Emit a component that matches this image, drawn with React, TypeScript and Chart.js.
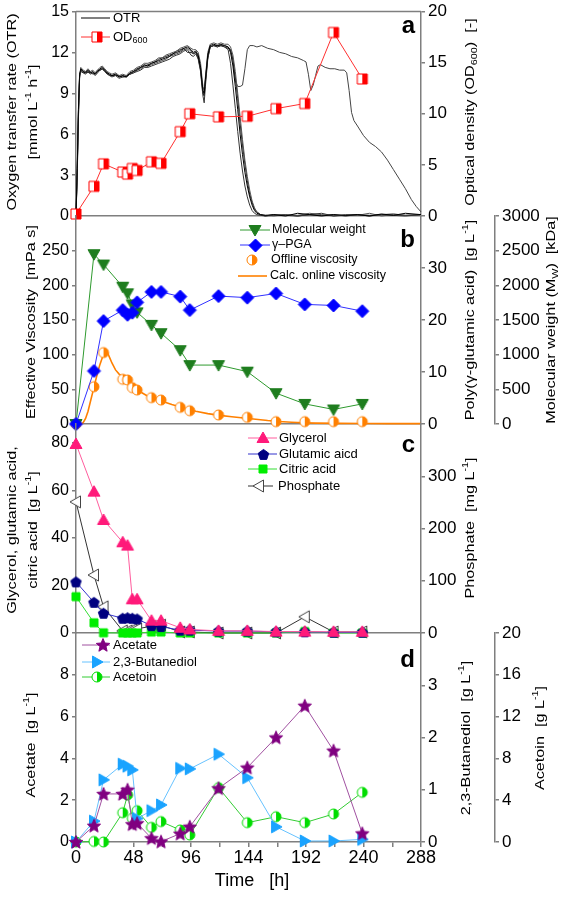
import React, { useEffect, useRef } from 'react';
import { Chart, registerables } from 'chart.js';

Chart.register(...registerables);

const W = 567;
const H = 899;
const FONT = '"Liberation Sans", Arial, Helvetica, sans-serif';
const AXIS = '#7f7f7f';

// ---------- sampling times (h) ----------
const sampleTime = [0, 15, 23, 39, 43, 47, 51, 63, 71, 87, 95, 119, 143, 167, 191, 215, 239];

// ---------- panel a ----------
const od600 = [0.2, 2.9, 5.1, 4.3, 4.1, 4.65, 4.45, 5.3, 5.15, 8.25, 10.0, 9.7, 9.75, 10.5, 11.0, 17.95, 13.4];

const otrTime = [0, 1, 2, 3, 4, 6, 8, 10, 12, 14, 16, 18, 20, 22, 24, 26, 28, 30, 33, 36, 39, 42, 45, 48, 51, 54, 57, 60, 63, 66, 69, 72, 75, 78, 81, 84, 87, 90, 93, 96, 98, 100, 102, 104, 105, 106, 107, 108, 110, 112, 115, 118, 121, 124, 127, 129, 131, 133, 135, 137, 139, 141, 143, 145, 147, 149, 151, 154, 158, 165, 175, 185, 195, 205, 215, 225, 235, 245, 255, 265, 275, 288];
const otrRun1 = [0, 3.5, 7.8, 10.4, 10.8, 10.6, 10.5, 10.7, 10.5, 10.6, 10.4, 10.6, 10.8, 10.9, 10.7, 10.5, 10.4, 10.3, 10.4, 10.2, 10.3, 10.2, 10.5, 10.6, 10.8, 10.9, 11.1, 11.0, 11.2, 11.3, 11.4, 11.5, 11.6, 11.7, 11.9, 12.0, 12.1, 12.3, 12.4, 12.2, 12.0, 12.1, 11.8, 10.9, 10.0, 9.2, 9.0, 10.0, 11.8, 12.5, 12.6, 12.5, 12.6, 12.5, 12.4, 12.0, 11.0, 9.5, 7.8, 6.0, 4.5, 3.2, 2.2, 1.4, 0.8, 0.4, 0.2, 0.1, 0.05, 0.1, 0.0, 0.2, 0.1, 0.0, 0.1, 0.05, 0.1, 0.0, 0.15, 0.05, 0.2, 0.1];
const otrRun2 = [0, 3.0, 7.2, 10.2, 10.7, 10.5, 10.4, 10.6, 10.4, 10.5, 10.3, 10.5, 10.7, 10.8, 10.6, 10.4, 10.3, 10.2, 10.3, 10.1, 10.2, 10.2, 10.4, 10.5, 10.6, 10.7, 10.9, 10.9, 11.0, 11.1, 11.2, 11.3, 11.4, 11.5, 11.7, 11.8, 11.9, 12.1, 12.2, 11.8, 11.7, 11.9, 11.5, 10.6, 9.6, 8.8, 8.3, 9.5, 11.5, 12.4, 12.5, 12.4, 12.5, 12.4, 12.2, 11.2, 9.6, 7.9, 6.2, 4.6, 3.3, 2.2, 1.4, 0.8, 0.4, 0.2, 0.1, 0.05, 0.0, 0.1, 0.05, 0.0, 0.1, 0.2, 0.0, 0.05, 0.1, 0.0, 0.1, 0.05, 0.0, 0.1];
const otrRun3 = [0, 2.8, 7.0, 10.1, 10.9, 10.7, 10.6, 10.8, 10.6, 10.7, 10.5, 10.7, 10.9, 11.0, 10.8, 10.6, 10.5, 10.4, 10.5, 10.3, 10.4, 10.3, 10.6, 10.7, 10.9, 11.0, 11.2, 11.2, 11.3, 11.4, 11.6, 11.6, 11.8, 11.9, 12.0, 12.1, 12.3, 12.4, 12.5, 12.3, 12.2, 12.2, 12.0, 11.2, 10.3, 9.5, 9.2, 10.2, 12.0, 12.6, 12.7, 12.6, 12.7, 12.6, 12.6, 12.4, 11.8, 10.6, 9.0, 7.3, 5.6, 4.1, 2.9, 1.9, 1.1, 0.6, 0.3, 0.1, 0.05, 0.0, 0.1, 0.05, 0.2, 0.1, 0.0, 0.1, 0.05, 0.2, 0.0, 0.1, 0.05, 0.1];
const otrRun4 = [0, 3.2, 7.5, 10.3, 10.6, 10.5, 10.6, 10.5, 10.6, 10.4, 10.5, 10.7, 10.7, 10.8, 10.6, 10.5, 10.3, 10.3, 10.3, 10.3, 10.2, 10.3, 10.4, 10.6, 10.7, 10.9, 11.0, 11.1, 11.2, 11.3, 11.5, 11.6, 11.7, 11.8, 11.9, 12.1, 12.2, 12.3, 12.0, 12.0, 11.9, 12.0, 11.6, 10.7, 9.8, 9.0, 8.8, 9.8, 11.6, 12.4, 12.5, 12.5, 12.5, 12.4, 12.3, 12.2, 11.5, 10.2, 8.6, 6.8, 5.2, 3.8, 2.6, 1.6, 1.0, 0.5, 0.3, 0.1, 0.0, 0.05, 0.1, 0.0, 0.1, 0.05, 0.1, 0.0, 0.1, 0.05, 0.1, 0.15, 0.05, 0.1];
const otrLongTime = [0, 1, 2, 3, 4, 6, 8, 10, 12, 14, 16, 18, 20, 22, 24, 26, 28, 30, 33, 36, 39, 42, 45, 48, 51, 54, 57, 60, 63, 66, 69, 72, 75, 78, 81, 84, 87, 90, 93, 96, 98, 100, 102, 104, 105, 106, 107, 108, 110, 112, 115, 118, 121, 124, 127, 129, 131, 133, 135, 137, 139, 141, 143, 145, 148, 151, 155, 160, 165, 170, 175, 180, 185, 190, 192, 194, 196, 198, 200, 202, 204, 208, 212, 216, 220, 224, 226, 228, 230, 232, 235, 240, 245, 250, 255, 260, 265, 270, 275, 280, 284, 288];
const otrLong = [0, 3.3, 7.6, 10.3, 10.7, 10.6, 10.5, 10.6, 10.5, 10.5, 10.4, 10.6, 10.7, 10.8, 10.7, 10.5, 10.4, 10.3, 10.4, 10.2, 10.3, 10.2, 10.4, 10.5, 10.7, 10.8, 11.0, 11.0, 11.1, 11.2, 11.3, 11.4, 11.5, 11.7, 11.8, 11.9, 12.0, 12.2, 12.3, 12.1, 11.9, 12.0, 11.7, 10.8, 9.9, 9.1, 8.9, 9.9, 11.7, 12.4, 12.5, 12.4, 12.5, 12.5, 12.4, 12.2, 11.4, 9.9, 9.5, 9.5, 9.6, 10.8, 12.2, 12.5, 12.5, 12.4, 12.5, 12.3, 12.2, 12.0, 11.9, 11.7, 11.6, 11.4, 11.3, 10.4, 9.2, 9.6, 10.3, 11.0, 11.1, 10.9, 10.8, 10.8, 10.7, 10.7, 10.5, 9.2, 7.6, 7.0, 6.6, 5.9, 5.4, 5.1, 4.7, 4.1, 3.4, 2.7, 2.0, 1.2, 0.7, 0.3];

// ---------- panel b ----------
const molWeight = [0, 2450, 2300, 1980, 1885, 1725, 1610, 1430, 1310, 1065, 850, 850, 755, 445, 290, 210, 290];
const pga = [0, 10.2, 19.8, 21.9, 21.0, 21.4, 23.4, 25.4, 25.4, 24.5, 21.9, 24.6, 24.3, 25.1, 23.0, 22.8, 21.7];
const offlineVisc = [0, 53.8, 103, 64.5, 63.5, 52.4, 49, 38, 34.6, 24, 19.2, 13, 9.6, 3.4, 3.4, 3.4, 3.4];
const calcViscTime = [0, 4, 6, 8, 10, 12, 14, 16, 18, 20, 22, 24, 25, 26, 28, 30, 33, 36, 40, 45, 50, 55, 60, 65, 70, 80, 90, 100, 110, 120, 130, 140, 150, 160, 170, 180, 190, 200, 220, 240, 260, 288];
const calcVisc = [0, 0, 2, 8, 18, 32, 46, 60, 74, 86, 96, 103, 105, 104, 96, 88, 78, 72, 67, 60, 51, 45, 40, 37, 34, 28, 23, 18.5, 15, 12.5, 10.5, 8.6, 6.8, 5, 3.6, 2.6, 1.8, 1.3, 0.9, 0.7, 0.6, 0.5];

// ---------- panel c ----------
const glycerol = [79.6, 59.5, 47.6, 38.2, 36.8, 14.2, 14.2, 5.2, 5.2, 2.2, 1.5, 0.9, 0.9, 0.6, 0.6, 0.5, 0.5];
const glutamic = [21.5, 12.9, 8.3, 6.2, 6.4, 6.2, 5.9, 3.1, 2.7, 1.2, 1.2, 0.8, 0.8, 0.5, 0.5, 0.3, 0.3];
const citric = [15.3, 4.3, 0.1, 0, 0, 0, 0, 0.4, 0.4, 0, 0, 0, 0, 0, 0.6, 0, 0];
const phosphate = [251, 111, 50, 4, 4, 6, 8, 13, 15, 2, 2, 0, 0, 0, 31, 2, 2];

// ---------- panel d ----------
const acetate = [0, 0.78, 2.3, 2.3, 2.5, 0.85, 0.9, 0.18, 0.02, 0.4, 0.73, 2.57, 3.56, 5.0, 6.52, 4.37, 0.41];
const butanediol = [0, 0.4, 1.19, 1.49, 1.45, 1.38, 0.45, 0.6, 0.71, 1.41, 1.4, 1.68, 1.23, 0.29, 0.02, 0.02, 0.05];
const acetoin = [0, 0.05, 0, 2.8, 4.5, 2.27, 3.0, 1.4, 1.95, 1.15, 0.67, 5.2, 1.85, 2.42, 1.85, 2.68, 4.75];

const xTickLabels = ['0', '48', '96', '144', '192', '240', '288'];

// ---------- helpers ----------
const xy = (xs: number[], ys: number[]) => xs.map((x, i) => ({ x, y: ys[i] }));

function makeMarker(kind: string, size: number, color: string, mode: 'fill' | 'half' | 'open' = 'fill'): HTMLCanvasElement {
  const pad = 2;
  const n = Math.ceil(size + pad * 2);
  const c = document.createElement('canvas');
  c.width = n;
  c.height = n;
  const g = c.getContext('2d')!;
  const cx = n / 2;
  const cy = n / 2;
  const r = size / 2;
  const poly = (pts: number[][]) => {
    pts.forEach(([x, y], i) => (i ? g.lineTo(cx + x, cy + y) : g.moveTo(cx + x, cy + y)));
    g.closePath();
  };
  const rot = (pts: number[][], a: number) =>
    pts.map(([x, y]) => [x * Math.cos(a) - y * Math.sin(a), x * Math.sin(a) + y * Math.cos(a)]);
  const tri = [[0, -r], [r, r * 0.75], [-r, r * 0.75]];
  const path = () => {
    g.beginPath();
    switch (kind) {
      case 'square':
        g.rect(cx - r, cy - r, size, size);
        break;
      case 'circle':
        g.arc(cx, cy, r, 0, Math.PI * 2);
        break;
      case 'diamond':
        poly([[0, -r], [r, 0], [0, r], [-r, 0]]);
        break;
      case 'triUp':
        poly(tri);
        break;
      case 'triDown':
        poly(rot(tri, Math.PI));
        break;
      case 'triLeft':
        poly(rot(tri, -Math.PI / 2));
        break;
      case 'triRight':
        poly(rot(tri, Math.PI / 2));
        break;
      case 'pentagon': {
        const pts: number[][] = [];
        for (let i = 0; i < 5; i++) {
          const a = -Math.PI / 2 + (i * 2 * Math.PI) / 5;
          pts.push([r * Math.cos(a), r * Math.sin(a) + r * 0.08]);
        }
        poly(pts);
        break;
      }
      case 'star': {
        const pts: number[][] = [];
        for (let i = 0; i < 10; i++) {
          const a = -Math.PI / 2 + (i * Math.PI) / 5;
          const rr = i % 2 ? r * 0.45 : r;
          pts.push([rr * Math.cos(a), rr * Math.sin(a) + r * 0.08]);
        }
        poly(pts);
        break;
      }
    }
  };
  g.lineWidth = 1;
  g.strokeStyle = color;
  g.fillStyle = color;
  g.lineJoin = 'miter';
  if (mode === 'fill') {
    path();
    g.fill();
    g.stroke();
  } else {
    path();
    g.fillStyle = '#ffffff';
    g.fill();
    if (mode === 'half') {
      g.save();
      g.beginPath();
      g.rect(cx, 0, n, n);
      g.clip();
      path();
      g.fillStyle = color;
      g.fill();
      g.restore();
    }
    path();
    g.stroke();
  }
  return c;
}

type Seg = { t: string; k: 'n' | 'sup' | 'sub' };
function parseRich(s: string): Seg[] {
  const out: Seg[] = [];
  const re = /(\^\{[^}]*\}|_\{[^}]*\})/g;
  let last = 0;
  let m: RegExpExecArray | null;
  while ((m = re.exec(s))) {
    if (m.index > last) out.push({ t: s.slice(last, m.index), k: 'n' });
    out.push({ t: m[0].slice(2, -1), k: m[0][0] === '^' ? 'sup' : 'sub' });
    last = m.index + m[0].length;
  }
  if (last < s.length) out.push({ t: s.slice(last), k: 'n' });
  return out;
}

interface TextSpec {
  x: number;
  y: number;
  text: string;
  size: number;
  sx?: number;
  rot?: boolean;
  bold?: boolean;
  align?: 'left' | 'center' | 'right';
  baseline?: CanvasTextBaseline;
}

function drawRich(ctx: CanvasRenderingContext2D, t: TextSpec) {
  const segs = parseRich(t.text);
  const font = (k: string) =>
    `${t.bold ? 'bold ' : ''}${k === 'n' ? t.size : Math.round(t.size * 0.66)}px ${FONT}`;
  ctx.save();
  ctx.translate(t.x, t.y);
  if (t.rot) ctx.rotate(-Math.PI / 2);
  ctx.scale(t.sx ?? 1, 1);
  let total = 0;
  const ws = segs.map((s) => {
    ctx.font = font(s.k);
    const w = ctx.measureText(s.t).width;
    total += w;
    return w;
  });
  let x = t.align === 'left' ? 0 : t.align === 'right' ? -total : -total / 2;
  ctx.fillStyle = '#000';
  ctx.textAlign = 'left';
  ctx.textBaseline = t.baseline ?? 'middle';
  segs.forEach((s, i) => {
    ctx.font = font(s.k);
    const dy = s.k === 'sup' ? -t.size * 0.33 : s.k === 'sub' ? t.size * 0.3 : 0;
    ctx.fillText(s.t, x, dy);
    x += ws[i];
  });
  ctx.restore();
}

interface LegendSpec {
  y: number;
  x1?: number;
  x2?: number;
  line?: string;
  lw?: number;
  mx?: number;
  mk?: HTMLCanvasElement;
  tx: number;
  text: string;
  size: number;
}

interface DecorSpec {
  topBorder?: boolean;
  texts: TextSpec[];
  legend: LegendSpec[];
}

function decorPlugin(spec: DecorSpec) {
  return {
    id: 'decor',
    afterDraw(chart: any) {
      const ctx: CanvasRenderingContext2D = chart.ctx;
      const area = chart.chartArea;
      if (spec.topBorder) {
        ctx.save();
        ctx.strokeStyle = AXIS;
        ctx.lineWidth = 1.5;
        ctx.beginPath();
        ctx.moveTo(area.left, area.top);
        ctx.lineTo(area.right, area.top);
        ctx.stroke();
        ctx.restore();
      }
      spec.legend.forEach((it) => {
        if (it.line) {
          ctx.save();
          ctx.strokeStyle = it.line;
          ctx.lineWidth = it.lw ?? 1;
          ctx.beginPath();
          ctx.moveTo(it.x1!, it.y);
          ctx.lineTo(it.x2!, it.y);
          ctx.stroke();
          ctx.restore();
        }
        if (it.mk) {
          ctx.drawImage(it.mk, Math.round(it.mx! - it.mk.width / 2), Math.round(it.y - it.mk.height / 2));
        }
        drawRich(ctx, { x: it.tx, y: it.y, text: it.text, size: it.size, align: 'left' });
      });
      spec.texts.forEach((t) => drawRich(ctx, t));
    },
  };
}

function yAxis(pos: 'left' | 'right', min: number, max: number, step: number, width: number, weight: number, show?: (v: number) => boolean) {
  return {
    type: 'linear',
    position: pos,
    min,
    max,
    weight,
    afterBuildTicks: (s: any) => {
      if (show) s.ticks = s.ticks.filter((t: any) => show(t.value));
    },
    afterFit: (s: any) => {
      s.width = width;
    },
    ticks: {
      stepSize: step,
      autoSkip: false,
      font: { family: FONT, size: pos === 'left' ? 16 : 17, lineHeight: 1 },
      color: '#000',
      padding: 3,
      callback: (v: any) => String(v),
    },
    grid: { drawOnChartArea: false, drawTicks: true, tickLength: 4, color: AXIS, lineWidth: 1.5 },
    border: { display: true, color: AXIS, width: 1.5 },
  };
}

function xAxis(bottom: boolean) {
  return {
    type: 'linear',
    position: 'bottom',
    min: 0,
    max: 288,
    afterFit: (s: any) => {
      s.height = bottom ? 30 : 0;
    },
    ticks: {
      display: bottom,
      stepSize: 24,
      autoSkip: false,
      maxRotation: 0,
      font: { family: FONT, size: 18, lineHeight: 1 },
      color: '#000',
      padding: 2,
      callback: (v: any) => (xTickLabels.includes(String(v)) ? String(v) : ''),
    },
    grid: { drawOnChartArea: false, drawTicks: bottom, tickLength: 5, color: AXIS, lineWidth: 1.5 },
    border: { display: true, color: AXIS, width: 1.5 },
  };
}

function baseOptions(top: number, bottom: number, xh: number) {
  return {
    responsive: false,
    animation: false,
    events: [],
    layout: { padding: { left: 0, right: 0, top, bottom: H - bottom - xh } },
    plugins: { legend: { display: false }, tooltip: { enabled: false } },
    elements: { line: { tension: 0 } },
  };
}

function pts(label: string, xs: number[], ys: number[], axis: string, lineColor: string, mk: HTMLCanvasElement, order = 0, showLine = true) {
  return {
    label,
    data: xy(xs, ys),
    yAxisID: axis,
    borderColor: lineColor,
    backgroundColor: lineColor,
    borderWidth: 1,
    pointStyle: mk,
    pointRadius: 5,
    showLine,
    clip: false,
    order,
  };
}

function curve(label: string, xs: number[], ys: number[], axis: string, color: string, width: number, order = 5) {
  return {
    label,
    data: xy(xs, ys),
    yAxisID: axis,
    borderColor: color,
    backgroundColor: color,
    borderWidth: width,
    pointRadius: 0,
    clip: false,
    order,
  };
}

const T = (x: number, y: number, text: string): TextSpec => ({ x, y, text, size: 13.5, sx: 1.2, rot: true });
const LETTER = (y: number, text: string): TextSpec => ({ x: 415, y, text, size: 24, bold: true, align: 'right', baseline: 'alphabetic' });

export default function App() {
  const refA = useRef<HTMLCanvasElement>(null);
  const refB = useRef<HTMLCanvasElement>(null);
  const refC = useRef<HTMLCanvasElement>(null);
  const refD = useRef<HTMLCanvasElement>(null);

  useEffect(() => {
    const mkOD = makeMarker('square', 10, '#ff0000', 'half');
    const mkMW = makeMarker('triDown', 12, '#1e7d1e');
    const mkPGA = makeMarker('diamond', 13, '#0000ff');
    const mkVisc = makeMarker('circle', 10, '#ff8000', 'half');
    const mkGly = makeMarker('triUp', 12, '#ff1a7a');
    const mkGlu = makeMarker('pentagon', 11, '#000080');
    const mkCit = makeMarker('square', 8, '#00ee00');
    const mkPho = makeMarker('triLeft', 12, '#444444', 'open');
    const mkAce = makeMarker('star', 14, '#800080');
    const mkBut = makeMarker('triRight', 12, '#1aa3ff');
    const mkAcn = makeMarker('circle', 10, '#00dd00', 'half');

    const charts: Chart[] = [];

    // ----- panel a -----
    const otrColors = ['#000000', '#333333', '#555555', '#222222', '#444444'];
    charts.push(
      new Chart(refA.current!, {
        type: 'line',
        data: {
          datasets: [
            curve('OTR 1', otrTime, otrRun1, 'yOTR', otrColors[0], 1, 2),
            curve('OTR 2', otrTime, otrRun2, 'yOTR', otrColors[1], 1, 2),
            curve('OTR 3', otrTime, otrRun3, 'yOTR', otrColors[2], 1, 2),
            curve('OTR 4', otrTime, otrRun4, 'yOTR', otrColors[3], 1, 2),
            curve('OTR 5', otrLongTime, otrLong, 'yOTR', otrColors[4], 1, 2),
            pts('OD600', sampleTime, od600, 'yOD', '#ff3030', mkOD, 0),
          ] as any,
        },
        options: {
          ...baseOptions(8, 216, 0),
          scales: {
            x: xAxis(false),
            yOTR: yAxis('left', 0, 15, 3, 76, 1),
            yOD: yAxis('right', 0, 20, 5, 146, 1),
          },
        } as any,
        plugins: [
          decorPlugin({
            topBorder: true,
            legend: [
              { y: 18, x1: 81, x2: 110, line: '#000', tx: 113, text: 'OTR', size: 13 },
              { y: 37, x1: 81, x2: 110, line: '#ff3030', mx: 97, mk: mkOD, tx: 113, text: 'OD_{600}', size: 13 },
            ],
            texts: [
              T(12, 112, 'Oxygen transfer rate (OTR)'),
              T(33, 112, '[mmol L^{-1} h^{-1}]'),
              T(470, 112, 'Optical density (OD_{600})  [-]'),
              LETTER(33, 'a'),
            ],
          }),
        ],
      })
    );

    // ----- panel b -----
    charts.push(
      new Chart(refB.current!, {
        type: 'line',
        data: {
          datasets: [
            curve('Calc. online viscosity', calcViscTime, calcVisc, 'yVisc', '#ff8000', 1.6, 5),
            pts('Offline viscosity', sampleTime, offlineVisc, 'yVisc', '#ff8000', mkVisc, 2, false),
            pts('Molecular weight', sampleTime, molWeight, 'yMW', '#2e9a2e', mkMW, 1),
            pts('γ–PGA', sampleTime, pga, 'yPoly', '#3030ff', mkPGA, 0),
          ] as any,
        },
        options: {
          ...baseOptions(216, 424, 0),
          scales: {
            x: xAxis(false),
            yVisc: yAxis('left', 0, 300, 50, 76, 1, (v) => v <= 250),
            yPoly: yAxis('right', 0, 40, 10, 74, 1, (v) => v <= 30),
            yMW: yAxis('right', 0, 3000, 500, 72, 2),
          },
        } as any,
        plugins: [
          decorPlugin({
            legend: [
              { y: 230, x1: 240, x2: 270, line: '#2e9a2e', mx: 255, mk: mkMW, tx: 272, text: 'Molecular weight', size: 12.5 },
              { y: 245, x1: 240, x2: 270, line: '#3030ff', mx: 255, mk: mkPGA, tx: 272, text: 'γ–PGA', size: 12.5 },
              { y: 260, mx: 252, mk: mkVisc, tx: 271, text: 'Offline viscosity', size: 12.5 },
              { y: 276, x1: 238, x2: 267, line: '#ff8000', lw: 1.6, tx: 270, text: 'Calc. online viscosity', size: 12.5 },
            ],
            texts: [
              T(31, 322, 'Effective Viscosity  [mPa s]'),
              T(470, 320, 'Poly(γ-glutamic acid)  [g L^{-1}]'),
              T(551, 320, 'Molecular weight (M_{W})  [kDa]'),
              LETTER(247, 'b'),
            ],
          }),
        ],
      })
    );

    // ----- panel c -----
    charts.push(
      new Chart(refC.current!, {
        type: 'line',
        data: {
          datasets: [
            pts('Phosphate', sampleTime, phosphate, 'yPho', '#333333', mkPho, 3),
            pts('Citric acid', sampleTime, citric, 'yGly', '#33dd33', mkCit, 2),
            pts('Glutamic aicd', sampleTime, glutamic, 'yGly', '#3333cc', mkGlu, 1),
            pts('Glycerol', sampleTime, glycerol, 'yGly', '#ff5c9d', mkGly, 0),
          ] as any,
        },
        options: {
          ...baseOptions(424, 633, 0),
          scales: {
            x: xAxis(false),
            yGly: yAxis('left', 0, 88, 20, 76, 1, (v) => v % 20 === 0 && v <= 80),
            yPho: yAxis('right', 0, 400, 100, 146, 1, (v) => v <= 300),
          },
        } as any,
        plugins: [
          decorPlugin({
            legend: [
              { y: 438, x1: 248, x2: 277, line: '#ff5c9d', mx: 263, mk: mkGly, tx: 279, text: 'Glycerol', size: 13 },
              { y: 454, x1: 248, x2: 277, line: '#3333cc', mx: 263, mk: mkGlu, tx: 279, text: 'Glutamic aicd', size: 13 },
              { y: 469, x1: 248, x2: 277, line: '#33dd33', mx: 263, mk: mkCit, tx: 279, text: 'Citric acid', size: 13 },
              { y: 486, x1: 248, x2: 273, line: '#333333', mx: 259, mk: mkPho, tx: 278, text: 'Phosphate', size: 13 },
            ],
            texts: [
              T(12, 530, 'Glycerol, glutamic acid,'),
              T(33, 530, 'citric acid  [g L^{-1}]'),
              T(470, 528, 'Phosphate  [mg L^{-1}]'),
              LETTER(452, 'c'),
            ],
          }),
        ],
      })
    );

    // ----- panel d -----
    charts.push(
      new Chart(refD.current!, {
        type: 'line',
        data: {
          datasets: [
            pts('Acetoin', sampleTime, acetoin, 'yAcn', '#33cc33', mkAcn, 2),
            pts('2,3-Butanediol', sampleTime, butanediol, 'yBut', '#66c2ff', mkBut, 1),
            pts('Acetate', sampleTime, acetate, 'yAc', '#a050a0', mkAce, 0),
          ] as any,
        },
        options: {
          ...baseOptions(633, 842, 30),
          scales: {
            x: xAxis(true),
            yAc: yAxis('left', 0, 10, 2, 76, 1, (v) => v <= 8),
            yBut: yAxis('right', 0, 4, 1, 74, 1, (v) => v <= 3),
            yAcn: yAxis('right', 0, 20, 4, 72, 2),
          },
        } as any,
        plugins: [
          decorPlugin({
            legend: [
              { y: 645, x1: 82, x2: 110, line: '#a050a0', mx: 103, mk: mkAce, tx: 113, text: 'Acetate', size: 13 },
              { y: 662, x1: 82, x2: 110, line: '#66c2ff', mx: 97, mk: mkBut, tx: 113, text: '2,3-Butanediol', size: 13 },
              { y: 677, x1: 82, x2: 110, line: '#33cc33', mx: 97, mk: mkAcn, tx: 113, text: 'Acetoin', size: 13 },
            ],
            texts: [
              T(31, 745, 'Acetate  [g L^{-1}]'),
              T(466, 738, '2,3-Butanediol  [g L^{-1}]'),
              T(540, 738, 'Acetoin  [g L^{-1}]'),
              LETTER(667, 'd'),
              { x: 252, y: 881, text: 'Time   [h]', size: 18 },
            ],
          }),
        ],
      })
    );

    return () => charts.forEach((c) => c.destroy());
  }, []);

  const cs: React.CSSProperties = { position: 'absolute', left: 0, top: 0, width: W, height: H };
  return (
    <div style={{ position: 'absolute', left: 0, top: 0, width: W, height: H, background: '#fff', overflow: 'hidden' }}>
      <canvas ref={refA} width={W} height={H} style={cs} />
      <canvas ref={refB} width={W} height={H} style={cs} />
      <canvas ref={refC} width={W} height={H} style={cs} />
      <canvas ref={refD} width={W} height={H} style={cs} />
    </div>
  );
}
